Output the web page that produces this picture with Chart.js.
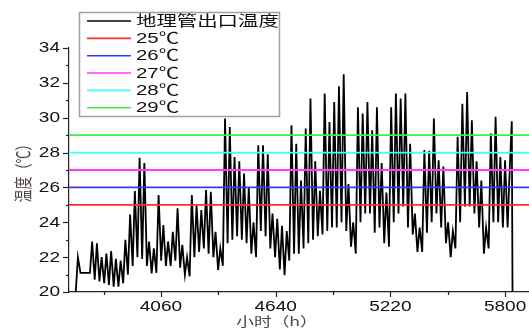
<!DOCTYPE html>
<html>
<head>
<meta charset="utf-8">
<script src="https://cdn.jsdelivr.net/npm/chart.js@4.4.1/dist/chart.umd.min.js"></script>
<style>
  html, body { margin: 0; padding: 0; background: #fff; overflow: hidden; }
  #wrap { width: 529px; height: 328px; }
</style>
</head>
<body>
<div id="wrap"><canvas id="c" width="529" height="328"></canvas></div>
<script>
// ── Dados (hora do ano, °C) ──────────────────────────────
const firstHour = 3624; // início da série (1º dia)
const dailyMax = [
  22.0, 21.1, 21.1, 22.9, 22.8, 22.0, 22.2, 22.35, 21.9, 21.8,
  23.0, 24.45, 25.8, 27.7, 27.4, 22.9, 22.5, 25.56, 23.84, 22.9,
  23.45, 24.8, 22.7, 22.0, 25.56, 24.98, 24.7, 25.85, 25.75, 23.45,
  22.5, 29.95, 29.47, 27.75, 27.5, 26.8, 26.0, 24.0, 28.42, 28.42,
  27.9, 24.5, 24.2, 23.8, 23.5, 29.57, 28.5, 26.4, 29.38, 31.1,
  27.5, 25.8, 31.39, 29.76, 30.9, 31.8, 32.5, 26.2, 24.0, 30.6,
  30.24, 30.9, 29.28, 30.6, 27.4, 25.7, 30.6, 31.39, 31.1, 31.39,
  28.5, 24.5, 23.7, 28.14, 28.1, 29.95, 27.56, 27.2, 24.0, 23.5,
  28.9, 30.8, 31.48, 29.86, 27.5, 26.4, 23.7, 29.1, 30.05, 27.75,
  27.56, 27.2
];
const dailyMin = [
  20.0, 21.1, 21.1, 21.1, 20.7, 20.6, 20.5, 20.4, 20.3, 20.3,
  20.5, 21.0, 21.5, 22.0, 21.9, 21.5, 21.07, 21.1, 21.8, 21.5,
  21.5, 21.8, 21.4, 21.0, 20.9, 22.0, 22.3, 22.5, 22.2, 22.0,
  21.26, 21.5, 22.8, 23.0, 23.2, 23.0, 22.8, 22.2, 22.0, 23.5,
  23.2, 22.5, 22.0, 21.3, 20.97, 21.8, 22.2, 22.2, 22.5, 22.8,
  23.0, 23.2, 23.3, 23.5, 23.7, 23.7, 24.0, 23.5, 22.6, 22.2,
  24.0, 24.5, 24.5, 23.4, 23.7, 22.8, 22.6, 24.0, 24.5, 24.9,
  23.7, 23.3, 22.3, 22.3, 23.4, 24.0, 24.5, 23.7, 22.8, 22.0,
  22.5, 24.0, 24.9, 24.9, 24.5, 23.7, 22.2, 22.5, 24.0, 24.0,
  23.7, 23.7
];
const tailHours = [5834, 5838];
const tailTemps = [29.8, 19.0];

const seriesLabel = '地理管出口温度';
const refTemps = [25, 26, 27, 28, 29];
const refLabels = ['25℃', '26℃', '27℃', '28℃', '29℃'];
const refColors = ['#ff2e2e', '#3838ff', '#ff3cff', '#3cffff', '#44ee44'];

const xRange = [3595, 5921];
const yRange = [20, 34];
const xMajor = [4060, 4640, 5220, 5800];
const xMinor = [3770, 4350, 4930, 5510];
const yMajor = [20, 22, 24, 26, 28, 30, 32, 34];
const yMinor = [21, 23, 25, 27, 29, 31, 33];

const xTitle = '小时（h）';
const yTitle = '温度（℃）';

// ── Série horária: mínimo de madrugada, pico à tarde ────
function buildSeries() {
  const pts = [];
  dailyMax.forEach((mx, d) => {
    const h0 = firstHour + 24 * d;
    pts.push({ x: h0 + 5, y: dailyMin[d] });
    pts.push({ x: h0 + 16, y: mx });
  });
  tailHours.forEach((h, i) => pts.push({ x: h, y: tailTemps[i] }));
  return pts;
}

const datasets = [
  {
    label: seriesLabel,
    data: buildSeries(),
    borderColor: '#000',
    borderWidth: 1.8,
    pointRadius: 0,
    showLine: true,
    tension: 0,
    order: 1,
  },
  ...refTemps.map((t, i) => ({
    label: refLabels[i],
    data: [{ x: xRange[0], y: t }, { x: xRange[1], y: t }],
    borderColor: refColors[i],
    borderWidth: 1.8,
    pointRadius: 0,
    showLine: true,
    order: 0,
  })),
];

// texto esticado na horizontal (o original é achatado)
const SX = 1.36;
function stretchText(ctx, txt, x, y, align) {
  ctx.save();
  ctx.translate(x, y);
  ctx.scale(SX, 1);
  ctx.textAlign = align;
  ctx.fillText(txt, 0, 0);
  ctx.restore();
}

const decor = {
  id: 'decor',
  afterDraw(chart) {
    const { ctx, chartArea: a, scales: { x, y } } = chart;
    ctx.save();
    ctx.strokeStyle = '#222';
    ctx.lineWidth = 1.2;
    ctx.fillStyle = '#111';
    ctx.font = '14px "Liberation Sans", Arial, sans-serif';
    ctx.textBaseline = 'middle';

    // eixo y: ticks maiores / menores + rótulos
    [...yMajor.map((v) => [v, 6]), ...yMinor.map((v) => [v, 3])].forEach(([v, len]) => {
      const py = Math.round(y.getPixelForValue(v)) + 0.5;
      ctx.beginPath();
      ctx.moveTo(a.left - len, py);
      ctx.lineTo(a.left, py);
      ctx.stroke();
    });
    yMajor.forEach((v) => stretchText(ctx, String(v), a.left - 9, y.getPixelForValue(v) + 0.5, 'right'));

    // eixo x
    [...xMajor.map((v) => [v, 5]), ...xMinor.map((v) => [v, 3])].forEach(([v, len]) => {
      const px = Math.round(x.getPixelForValue(v)) + 0.5;
      ctx.beginPath();
      ctx.moveTo(px, a.bottom);
      ctx.lineTo(px, a.bottom + len);
      ctx.stroke();
    });
    xMajor.forEach((v) => stretchText(ctx, String(v), x.getPixelForValue(v), a.bottom + 15, 'center'));

    // títulos dos eixos
    ctx.fillStyle = '#4f4545';
    ctx.font = '13px "Noto Sans CJK SC", sans-serif';
    stretchText(ctx, xTitle, 277, 321, 'center');
    ctx.save();
    ctx.translate(23, 170);
    ctx.scale(SX, 1);
    ctx.rotate(-Math.PI / 2);
    ctx.textAlign = 'center';
    ctx.fillText(yTitle, 0, 0);
    ctx.restore();

    // legenda dentro do gráfico
    ctx.fillStyle = '#fff';
    ctx.fillRect(80, 13, 199, 103);
    ctx.strokeStyle = '#a0a0a0';
    ctx.lineWidth = 1.5;
    ctx.strokeRect(79.5, 12.5, 200, 104);
    ctx.font = '15px "Liberation Sans", "Noto Sans CJK SC", sans-serif';
    const rows = [0, 1, 2, 3, 4, 5];
    rows.forEach((i) => {
      const ds = chart.data.datasets[i];
      const ry = 21 + i * 17.35;
      ctx.strokeStyle = ds.borderColor;
      ctx.lineWidth = 1.6;
      ctx.beginPath();
      ctx.moveTo(87, ry);
      ctx.lineTo(131, ry);
      ctx.stroke();
      ctx.fillStyle = '#111';
      stretchText(ctx, ds.label, 136, ry + 0.5, 'left');
    });
    ctx.restore();
  },
};

new Chart(document.getElementById('c'), {
  type: 'scatter',
  data: { datasets },
  options: {
    responsive: false,
    animation: false,
    layout: { padding: { top: 48, left: 0, right: 0, bottom: 0 } },
    plugins: { legend: { display: false }, tooltip: { enabled: false } },
    scales: {
      x: {
        type: 'linear',
        min: xRange[0],
        max: xRange[1],
        ticks: { display: false },
        grid: { display: false },
        border: { display: true, color: '#222', width: 1.2 },
        afterFit(s) { s.height = 36; },
      },
      y: {
        type: 'linear',
        min: yRange[0],
        max: yRange[1],
        ticks: { display: false },
        grid: { display: false },
        border: { display: true, color: '#222', width: 1.2 },
        afterFit(s) { s.width = 69; },
      },
    },
  },
  plugins: [decor],
});
</script>
</body>
</html>
